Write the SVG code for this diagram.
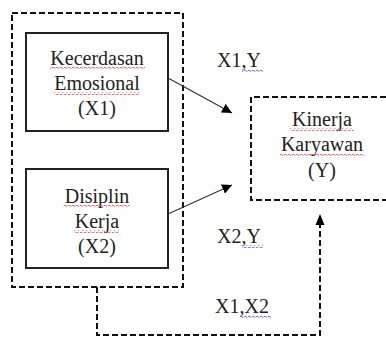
<svg xmlns="http://www.w3.org/2000/svg" width="386" height="337" viewBox="0 0 386 337">
<style>
.box{fill:none;stroke:#222;stroke-width:2}
.dash{fill:none;stroke:#111;stroke-width:2;stroke-dasharray:6 3}
.arr{fill:none;stroke:#333;stroke-width:1.2}
.t{font-family:"Liberation Serif","Times New Roman",serif;font-size:20px;fill:#222;text-anchor:middle}
.l{font-family:"Liberation Serif","Times New Roman",serif;font-size:20px;fill:#222}
.sq{fill:none;stroke:#e03030;stroke-width:0.8}
.sqb{fill:none;stroke:#3040e0;stroke-width:0.8}
</style>
<defs>
<marker id="ah" viewBox="0 0 10 10" refX="10" refY="5" markerWidth="10" markerHeight="10" markerUnits="userSpaceOnUse" orient="auto">
<path d="M0,0 L10,5 L0,10 z" fill="#000"/>
</marker>
<pattern id="wr" width="4" height="3" patternUnits="userSpaceOnUse">
<path d="M0,2 L1,1 L3,2.5 L4,1.5" fill="none" stroke="#e03030" stroke-width="0.7"/>
</pattern>
<pattern id="wb" width="4" height="3" patternUnits="userSpaceOnUse">
<path d="M0,2 L1,1 L3,2.5 L4,1.5" fill="none" stroke="#3040e0" stroke-width="0.7"/>
</pattern>
</defs>

<g id="group-x">
<rect class="dash" x="12" y="13" width="171" height="274"/>
</g>

<g id="node-x1">
<rect class="box" x="26" y="33" width="142" height="98"/>
<text class="t" x="97" y="65">Kecerdasan</text>
<text class="t" x="97" y="90">Emosional</text>
<text class="t" x="97" y="115">(X1)</text>
<rect x="50" y="67" width="95" height="3" fill="url(#wr)"/>
<rect x="54" y="92" width="86" height="3" fill="url(#wr)"/>
</g>

<g id="node-x2">
<rect class="box" x="26" y="169" width="142" height="99"/>
<text class="t" x="97" y="203">Disiplin</text>
<text class="t" x="97" y="228">Kerja</text>
<text class="t" x="97" y="253">(X2)</text>
<rect x="63" y="205" width="67" height="3" fill="url(#wr)"/>
<rect x="74" y="230" width="45" height="3" fill="url(#wr)"/>
</g>

<g id="node-y">
<path class="dash" d="M386,97 H251 V200 H386"/>
<text class="t" x="322" y="126">Kinerja</text>
<text class="t" x="322" y="151">Karyawan</text>
<text class="t" x="322" y="177">(Y)</text>
<rect x="290" y="128" width="64" height="3" fill="url(#wr)"/>
<rect x="280" y="153" width="84" height="3" fill="url(#wr)"/>
</g>

<g id="connectors">
<line class="arr" x1="168" y1="78" x2="232" y2="113" marker-end="url(#ah)"/>
<line class="arr" x1="168" y1="214" x2="232" y2="185" marker-end="url(#ah)"/>
<path class="dash" d="M97,287 V335 H320 V224"/>
<path d="M320,214 L324.5,225 L315.5,225 z" fill="#000"/>
</g>

<g id="labels">
<text class="l" x="217" y="67">X1,Y</text>
<rect x="242" y="69" width="21" height="3" fill="url(#wb)"/>
<text class="l" x="217" y="243">X2,Y</text>
<rect x="242" y="245" width="21" height="3" fill="url(#wb)"/>
<text class="l" x="215" y="313">X1,X2</text>
<rect x="240" y="315" width="31" height="3" fill="url(#wb)"/>
</g>
</svg>
